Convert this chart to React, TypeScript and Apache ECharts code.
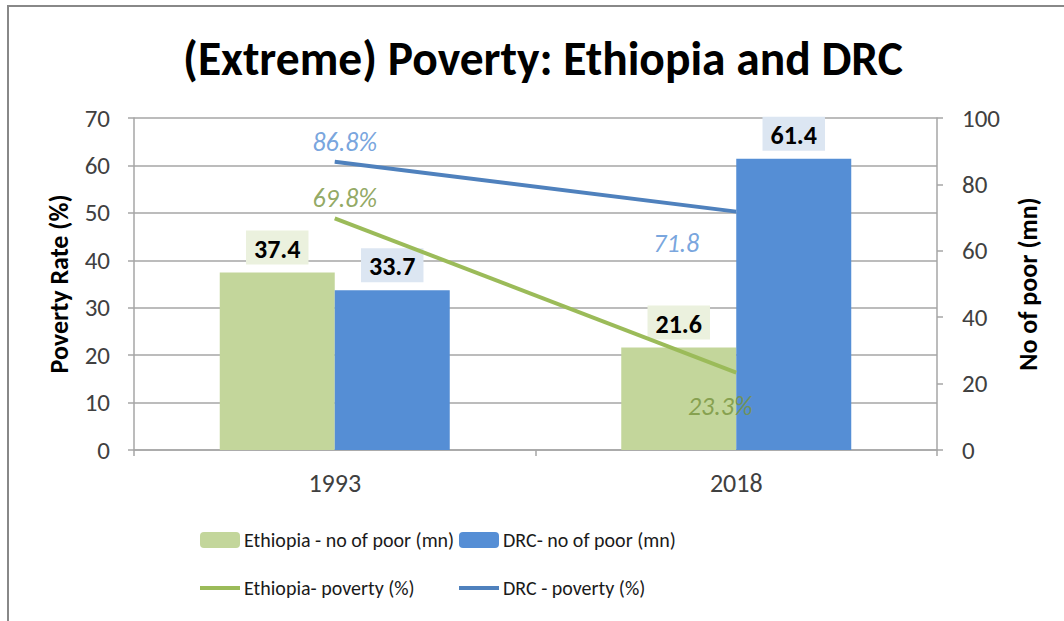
import React, { useEffect, useRef } from "react";
import * as echarts from "echarts";

const categories = ["1993", "2018"];
const ethPoor = [37.4, 21.6];
const drcPoor = [33.7, 61.4];
const ethPoverty = [69.8, 23.3];
const drcPoverty = [86.8, 71.8];
const ethPovertyLabels = ["69.8%", "23.3%"];
const drcPovertyLabels = ["86.8%", "71.8"];

const titleText = "(Extreme) Poverty: Ethiopia and DRC";
const nameEthBar = "Ethiopia - no of poor (mn)";
const nameDrcBar = "DRC- no of poor (mn)";
const nameEthLine = "Ethiopia- poverty (%)";
const nameDrcLine = "DRC - poverty (%)";

const FONT = "Carlito, Calibri, Lato, sans-serif";

export default function App() {
  const ref = useRef<HTMLDivElement>(null);
  useEffect(() => {
    if (!ref.current) return;
    const chart = echarts.init(ref.current, undefined, { renderer: "svg" });
    const axisGray = "#a6a6a6";
    const labelColor = "#404040";
    const barLabel = (bg: string) => ({
      show: true,
      position: "top",
      distance: 8,
      color: "#000",
      fontWeight: "bold",
      fontSize: 26,
      fontFamily: FONT,
      backgroundColor: bg,
      padding: [5, 8, 3, 8],
    });
    const legendCommon = {
      orient: "vertical",
      top: 525,
      itemWidth: 40,
      itemHeight: 16,
      itemGap: 28,
      lineStyle: { width: 4 },
      textStyle: { fontSize: 20, color: "#1a1a1a", fontFamily: FONT, padding: [0, 0, 0, -1] },
    };
    chart.setOption({
      animation: false,
      textStyle: { fontFamily: FONT },
      graphic: [
        {
          type: "rect",
          shape: { x: 8, y: 6, width: 1200, height: 800 },
          style: { fill: "none", stroke: "#888888", lineWidth: 2 },
          silent: true,
        },
        {
          type: "text",
          x: 543,
          y: 59,
          style: {
            text: titleText,
            textAlign: "center",
            textVerticalAlign: "middle",
            fontFamily: FONT,
            fontWeight: "bold",
            fontSize: 47.5,
            fill: "#000",
          },
        },
      ],
      legend: [
        {
          ...legendCommon,
          left: 193,
          data: [nameEthBar, { name: nameEthLine, itemStyle: { opacity: 0 } }],
        },
        {
          ...legendCommon,
          left: 452,
          data: [nameDrcBar, { name: nameDrcLine, itemStyle: { opacity: 0 } }],
        },
      ],
      grid: { left: 134, right: 127, top: 118, bottom: 171 },
      xAxis: {
        type: "category",
        data: categories,
        boundaryGap: true,
        axisLine: { lineStyle: { color: axisGray, width: 1.5 } },
        axisTick: { show: true, length: 6, lineStyle: { color: axisGray, width: 1.5 } },
        axisLabel: { fontSize: 26, color: labelColor, margin: 20, fontFamily: FONT },
      },
      yAxis: [
        {
          type: "value",
          min: 0,
          max: 70,
          interval: 10,
          name: "Poverty Rate (%)",
          nameLocation: "middle",
          nameGap: 62,
          nameRotate: 90,
          nameTextStyle: { fontSize: 26, fontWeight: "bold", color: "#000", fontFamily: FONT },
          axisLine: { show: true, lineStyle: { color: axisGray, width: 1.5 } },
          axisTick: { show: true, length: 6, lineStyle: { color: axisGray, width: 1.5 } },
          axisLabel: { fontSize: 25, color: labelColor, margin: 24, fontFamily: FONT },
          splitLine: { show: true, lineStyle: { color: axisGray, width: 1.5 } },
        },
        {
          type: "value",
          min: 0,
          max: 100,
          interval: 20,
          name: "No of poor (mn)",
          nameLocation: "middle",
          nameGap: 78,
          nameRotate: 90,
          nameTextStyle: { fontSize: 26, fontWeight: "bold", color: "#000", fontFamily: FONT },
          axisLine: { show: true, lineStyle: { color: axisGray, width: 1.5 } },
          axisTick: { show: true, length: 6, lineStyle: { color: axisGray, width: 1.5 } },
          axisLabel: { fontSize: 25, color: labelColor, margin: 25, fontFamily: FONT },
          splitLine: { show: false },
        },
      ],
      series: [
        {
          name: nameEthBar,
          type: "bar",
          yAxisIndex: 0,
          data: ethPoor,
          barWidth: 115,
          barGap: "0%",
          itemStyle: { color: "#c3d69b" },
          label: barLabel("#ebf1de"),
        },
        {
          name: nameDrcBar,
          type: "bar",
          yAxisIndex: 0,
          data: drcPoor,
          barWidth: 115,
          barGap: "0%",
          itemStyle: { color: "#558ed5" },
          label: barLabel("#dce6f2"),
        },
        {
          name: nameEthLine,
          type: "line",
          yAxisIndex: 1,
          data: ethPoverty,
          symbol: "none",
          lineStyle: { color: "#9bbb59", width: 4 },
          itemStyle: { color: "#9bbb59" },
        },
        {
          name: nameDrcLine,
          type: "line",
          yAxisIndex: 1,
          data: drcPoverty,
          symbol: "none",
          lineStyle: { color: "#4f81bd", width: 4 },
          itemStyle: { color: "#4f81bd" },
        },
        {
          name: "ethLabels",
          type: "scatter",
          yAxisIndex: 1,
          symbolSize: 0,
          silent: true,
          data: [
            { value: ethPoverty[0], label: { position: "top", distance: 7, offset: [10, 0] } },
            { value: ethPoverty[1], label: { position: "bottom", distance: 20, offset: [-16, 0] } },
          ],
          label: {
            show: true,
            color: "#77933c",
            fontStyle: "italic",
            fontSize: 26,
            fontFamily: FONT,
            formatter: (p: any) => ethPovertyLabels[p.dataIndex],
          },
        },
        {
          name: "drcLabels",
          type: "scatter",
          yAxisIndex: 1,
          symbolSize: 0,
          silent: true,
          data: [
            { value: drcPoverty[0], label: { position: "top", distance: 7, offset: [10, 0] } },
            { value: drcPoverty[1], label: { position: "bottom", distance: 18, offset: [-60, 0] } },
          ],
          label: {
            show: true,
            color: "#558ed5",
            fontStyle: "italic",
            fontSize: 26,
            fontFamily: FONT,
            formatter: (p: any) => drcPovertyLabels[p.dataIndex],
          },
        },
      ],
    });
    return () => chart.dispose();
  }, []);
  return (
    <div
      ref={ref}
      style={{ position: "fixed", left: 0, top: 0, width: 1064, height: 621, background: "#fff" }}
    />
  );
}
